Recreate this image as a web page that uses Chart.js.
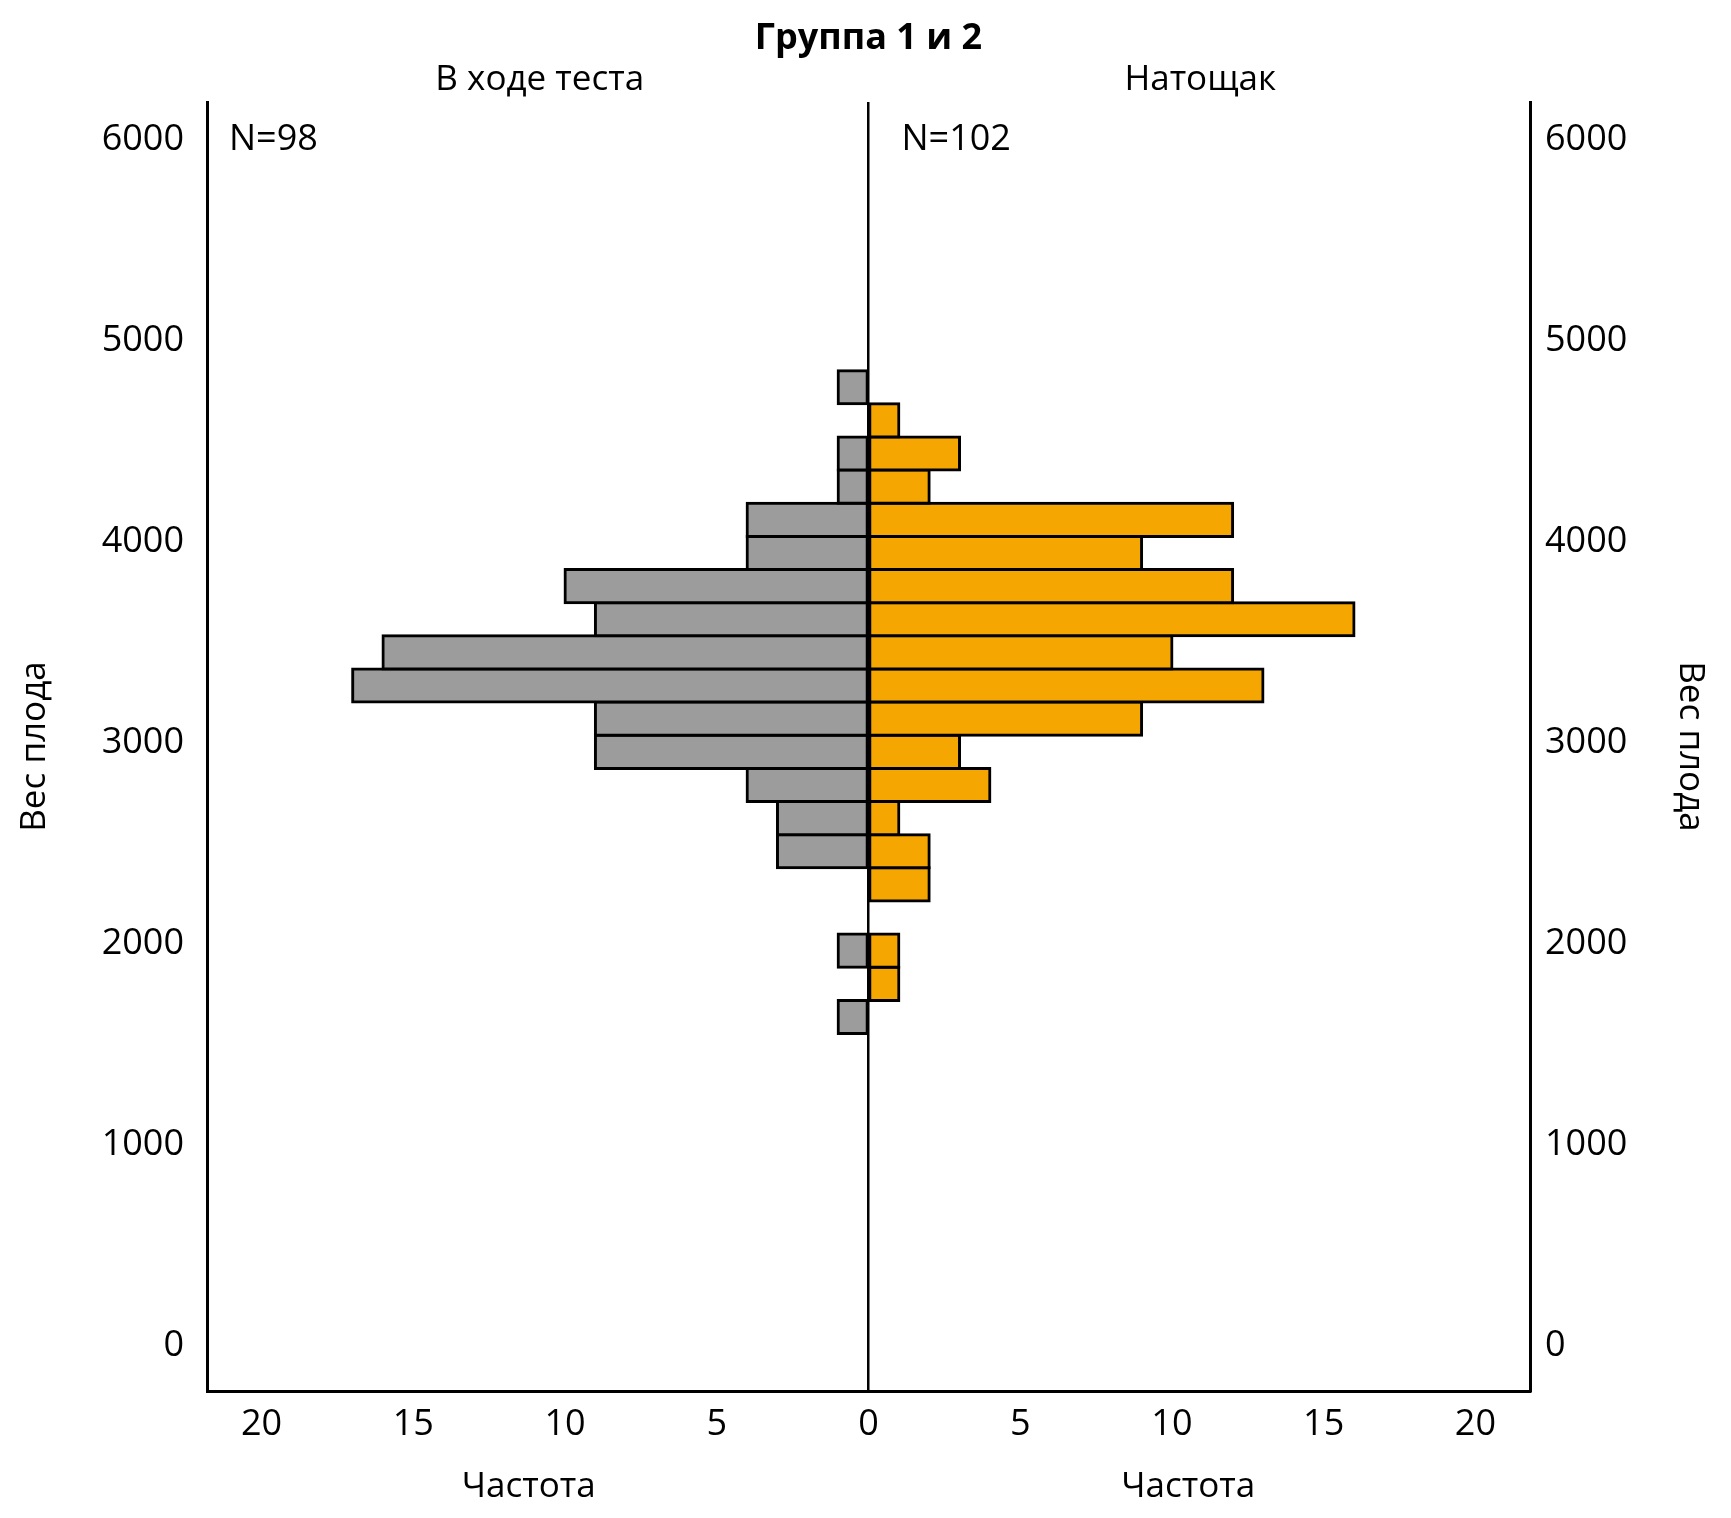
<!DOCTYPE html>
<html>
<head>
<meta charset="utf-8">
<script src="https://cdn.jsdelivr.net/npm/chart.js@4.4.1/dist/chart.umd.min.js"></script>
<style>
  html, body { margin: 0; padding: 0; background: #ffffff; }
  #wrap { width: 1731px; height: 1518px; }
</style>
</head>
<body>
<div id="wrap"><canvas id="c" width="1731" height="1518"></canvas></div>
<script>
// ---- data ----
const chartTitle = 'Группа 1 и 2';
const leftPanelTitle = 'В ходе теста';
const rightPanelTitle = 'Натощак';
const xAxisTitle = 'Частота';
const yAxisTitle = 'Вес плода';
const nDuringTest = 98;
const nFasting = 102;

// centres of the weight bins (g)
const binCenters = [1620, 1785, 1950, 2115, 2280, 2445, 2610, 2775, 2940, 3105,
                    3270, 3435, 3600, 3765, 3930, 4095, 4260, 4425, 4590, 4755];
// frequencies, "В ходе теста" (left, grey)
const countDuringTest = [1, 0, 1, 0, 0, 3, 3, 4, 9, 9, 17, 16, 9, 10, 4, 4, 1, 1, 0, 1];
// frequencies, "Натощак" (right, orange)
const countFasting = [0, 1, 1, 0, 2, 2, 1, 4, 3, 9, 13, 10, 16, 12, 9, 12, 2, 3, 1, 0];

const yTickValues = [0, 1000, 2000, 3000, 4000, 5000, 6000];
const xTickValues = [-20, -15, -10, -5, 0, 5, 10, 15, 20];

// ---- styling ----
const FONT = "'Open Sans', 'Noto Sans', sans-serif";
const GREY = '#9C9C9C';
const ORANGE = '#F5A600';

const greyPoints = binCenters
  .map((y, i) => ({ y: y, x: -countDuringTest[i] }))
  .filter(p => p.x !== 0);
const orangePoints = binCenters
  .map((y, i) => ({ y: y, x: countFasting[i] }))
  .filter(p => p.x !== 0);

const textPlugin = {
  id: 'extraText',
  afterDraw(chart) {
    const ctx = chart.ctx;
    const xs = chart.scales.x;
    const ys = chart.scales.y;
    const area = chart.chartArea;
    const cx = xs.getPixelForValue(0);
    const leftMid = (area.left + cx) / 2;
    const rightMid = (cx + area.right) / 2;
    ctx.save();
    ctx.fillStyle = '#000';
    ctx.textBaseline = 'middle';
    ctx.textAlign = 'center';
    ctx.font = "bold 36px " + FONT;
    ctx.fillText(chartTitle, cx, 39);
    ctx.font = "35px " + FONT;
    ctx.fillText(leftPanelTitle, leftMid + 2, 80);
    ctx.fillText(rightPanelTitle, rightMid + 1, 80);
    ctx.fillText(xAxisTitle, leftMid - 9, 1487);
    ctx.fillText(xAxisTitle, rightMid - 11, 1487);
    ctx.textAlign = 'left';
    const yN = ys.getPixelForValue(6000) + 3;
    ctx.font = "36px " + FONT;
    ctx.fillText('N=' + nDuringTest, area.left + 22, yN);
    ctx.fillText('N=' + nFasting, cx + 33, yN);
    ctx.restore();
  }
};

const tickFont = { family: FONT, size: 36 };

function barDataset(label, points, colour) {
  return {
    label: label,
    data: points,
    backgroundColor: colour,
    borderColor: '#000',
    borderWidth: 3,
    borderSkipped: false,
    inflateAmount: 1.5,
    barPercentage: 1,
    categoryPercentage: 1,
    grouped: false
  };
}

new Chart(document.getElementById('c'), {
  type: 'bar',
  data: {
    datasets: [
      barDataset(leftPanelTitle, greyPoints, GREY),
      barDataset(rightPanelTitle, orangePoints, ORANGE)
    ]
  },
  options: {
    indexAxis: 'y',
    responsive: false,
    animation: false,
    devicePixelRatio: 1,
    layout: { padding: { top: 102, left: 0, right: 0, bottom: 0 } },
    plugins: {
      legend: { display: false },
      tooltip: { enabled: false },
      title: { display: false }
    },
    scales: {
      x: {
        type: 'linear',
        position: 'bottom',
        offset: false,
        min: -21.8,
        max: 21.8,
        afterBuildTicks(scale) { scale.ticks = xTickValues.map(v => ({ value: v })); },
        afterFit(scale) { scale.height = 127; },
        ticks: {
          autoSkip: false,
          maxRotation: 0,
          padding: 12,
          color: '#000',
          font: tickFont,
          callback: v => String(Math.abs(v))
        },
        grid: {
          display: true,
          offset: false,
          drawTicks: false,
          drawOnChartArea: true,
          lineWidth: 2.5,
          color: c => (c.tick && c.tick.value === 0) ? '#000' : 'rgba(0,0,0,0)'
        },
        border: { display: true, color: '#000', width: 3 }
      },
      y: {
        type: 'linear',
        position: 'left',
        offset: false,
        min: -242,
        max: 6175,
        afterBuildTicks(scale) { scale.ticks = yTickValues.map(v => ({ value: v })); },
        afterFit(scale) { scale.width = 207; },
        ticks: { padding: 23, labelOffset: 3, color: '#000', font: tickFont, callback: v => String(v) },
        grid: { display: false, offset: false, drawTicks: false },
        border: { display: true, color: '#000', width: 3 },
        title: {
          display: true,
          text: yAxisTitle,
          color: '#000',
          font: { family: FONT, size: 35 },
          padding: { top: 14, bottom: 0 }
        }
      },
      y2: {
        type: 'linear',
        position: 'right',
        offset: false,
        min: -242,
        max: 6175,
        afterBuildTicks(scale) { scale.ticks = yTickValues.map(v => ({ value: v })); },
        afterFit(scale) { scale.width = 201; },
        ticks: { padding: 15, labelOffset: 3, color: '#000', font: tickFont, callback: v => String(v) },
        grid: { display: false, offset: false, drawTicks: false },
        border: { display: true, color: '#000', width: 3 },
        title: {
          display: true,
          text: yAxisTitle,
          color: '#000',
          font: { family: FONT, size: 35 },
          padding: { top: 20, bottom: 0 }
        }
      }
    }
  },
  plugins: [textPlugin]
});
</script>
</body>
</html>
